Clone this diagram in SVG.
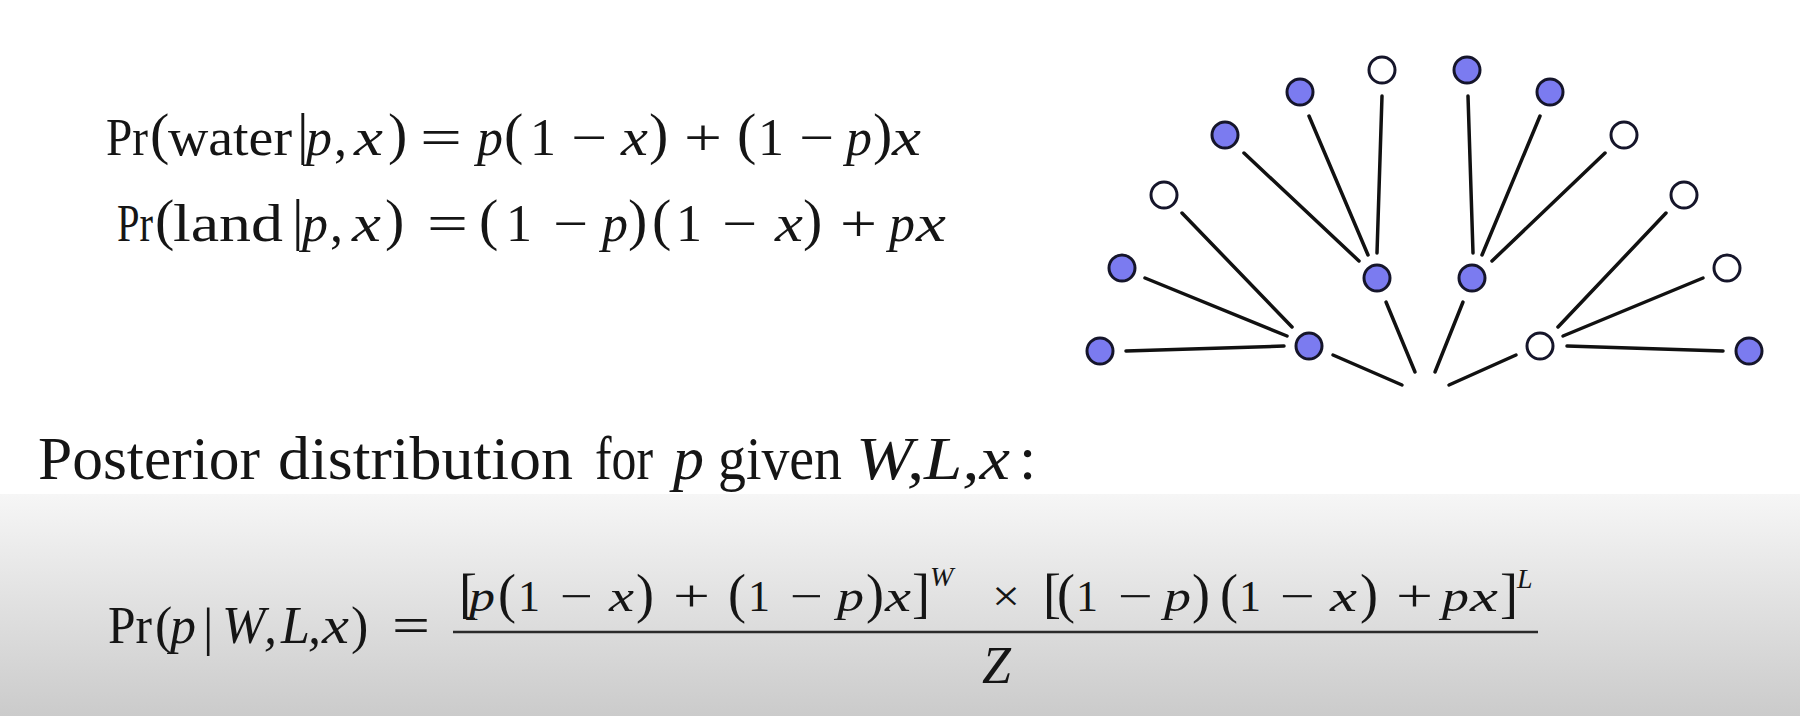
<svg xmlns="http://www.w3.org/2000/svg" width="1800" height="716" viewBox="0 0 1800 716">
<defs>
<linearGradient id="bg" x1="0" y1="0" x2="0" y2="1">
<stop offset="0" stop-color="#f6f6f6"/>
<stop offset="1" stop-color="#cbcbcb"/>
</linearGradient>
<style>
text{font-family:"Liberation Serif","Times New Roman",serif;fill:#151515}
.i{font-style:italic}
.f1{font-size:52px}
.p1{font-size:58px}
.h{font-size:62px}
.n{font-size:44px}
.np{font-size:54px}
.sup{font-size:28px;font-style:italic}
.edge{stroke:#111;stroke-width:3.5;stroke-linecap:round;fill:none}
.blue{fill:#7b7bf0;stroke:#15152a;stroke-width:3}
.white{fill:#fff;stroke:#15152a;stroke-width:3}
</style>
</defs>
<rect x="0" y="0" width="1800" height="716" fill="#fff"/>
<rect x="0" y="494" width="1800" height="222" fill="url(#bg)"/>

<g id="formula-water" class="f1">
<text x="106" y="155" textLength="42" lengthAdjust="spacingAndGlyphs">Pr</text>
<text x="150" y="153" class="p1">(</text>
<text x="168" y="155" textLength="124" lengthAdjust="spacingAndGlyphs">water</text>
<text x="297" y="153" class="p1">|</text>
<text x="306" y="155" class="i">p</text>
<text x="334" y="155">,</text>
<text x="354" y="155" class="i" textLength="29" lengthAdjust="spacingAndGlyphs">x</text>
<text x="388" y="153" class="p1">)</text>
<text x="420" y="155" textLength="42" lengthAdjust="spacingAndGlyphs">=</text>
<text x="477" y="155" class="i">p</text>
<text x="504" y="153" class="p1">(</text>
<text x="530" y="155">1</text>
<text x="571" y="155" textLength="36" lengthAdjust="spacingAndGlyphs">−</text>
<text x="621" y="155" class="i" textLength="27" lengthAdjust="spacingAndGlyphs">x</text>
<text x="649" y="153" class="p1">)</text>
<text x="684" y="155" textLength="38" lengthAdjust="spacingAndGlyphs">+</text>
<text x="737" y="153" class="p1">(</text>
<text x="758" y="155">1</text>
<text x="799" y="155" textLength="35" lengthAdjust="spacingAndGlyphs">−</text>
<text x="846" y="155" class="i">p</text>
<text x="873" y="153" class="p1">)</text>
<text x="892" y="155" class="i" textLength="29" lengthAdjust="spacingAndGlyphs">x</text>
</g>

<g id="formula-land" class="f1">
<text x="117" y="241"><tspan textLength="36" lengthAdjust="spacingAndGlyphs">Pr</tspan><tspan x="155" y="239" class="p1">(</tspan></text>
<text x="173" y="241" textLength="110" lengthAdjust="spacingAndGlyphs">land</text>
<text x="292" y="239" class="p1">|</text>
<text x="302" y="241" class="i">p</text>
<text x="330" y="241">,</text>
<text x="352" y="241" class="i" textLength="29" lengthAdjust="spacingAndGlyphs">x</text>
<text x="385" y="239" class="p1">)</text>
<text x="427" y="241" textLength="41" lengthAdjust="spacingAndGlyphs">=</text>
<text x="479" y="239" class="p1">(</text>
<text x="506" y="241">1</text>
<text x="553" y="241" textLength="35" lengthAdjust="spacingAndGlyphs">−</text>
<text x="602" y="241" class="i">p</text>
<text x="628" y="239" class="p1">)</text>
<text x="652" y="239" class="p1">(</text>
<text x="676" y="241">1</text>
<text x="722" y="241" textLength="35" lengthAdjust="spacingAndGlyphs">−</text>
<text x="775" y="241" class="i" textLength="28" lengthAdjust="spacingAndGlyphs">x</text>
<text x="803" y="239" class="p1">)</text>
<text x="840" y="241" textLength="37" lengthAdjust="spacingAndGlyphs">+</text>
<text x="889" y="241" class="i">p</text>
<text x="916" y="241" class="i" textLength="30" lengthAdjust="spacingAndGlyphs">x</text>
</g>

<g id="heading" class="h">
<text x="38" y="479" textLength="222" lengthAdjust="spacingAndGlyphs">Posterior</text>
<text x="278" y="479" textLength="295" lengthAdjust="spacingAndGlyphs">distribution</text>
<text x="595" y="479" textLength="58" lengthAdjust="spacingAndGlyphs">for</text>
<text x="673" y="479" class="i">p</text>
<text x="718" y="479" textLength="124" lengthAdjust="spacingAndGlyphs">given</text>
<text x="856" y="479" class="i" textLength="154" lengthAdjust="spacingAndGlyphs">W,L,x</text>
<text x="1019" y="479">:</text>
</g>

<g id="formula-posterior">
<g class="f1">
<text x="108" y="643" textLength="44" lengthAdjust="spacingAndGlyphs">Pr</text>
<text x="155" y="643">(</text>
<text x="170" y="643" class="i">p</text>
<text x="203" y="645">|</text>
<text x="222" y="643" class="i">W</text>
<text x="264" y="643" class="i">,</text>
<text x="281" y="643" class="i">L</text>
<text x="308" y="643" class="i">,</text>
<text x="322" y="643" class="i" textLength="27" lengthAdjust="spacingAndGlyphs">x</text>
<text x="351" y="643">)</text>
<text x="392" y="643" textLength="38" lengthAdjust="spacingAndGlyphs">=</text>
</g>
<line x1="453" y1="632" x2="1538" y2="632" stroke="#2a2a2a" stroke-width="2.5"/>
<g class="n">
<text x="459" y="612"><tspan class="np">[</tspan><tspan x="469" y="611" class="i" textLength="26" lengthAdjust="spacingAndGlyphs">p</tspan></text>
<text x="498" y="612" class="np">(</text>
<text x="518" y="611">1</text>
<text x="560" y="611" textLength="33" lengthAdjust="spacingAndGlyphs">−</text>
<text x="609" y="611" class="i" textLength="25" lengthAdjust="spacingAndGlyphs">x</text>
<text x="636" y="612" class="np">)</text>
<text x="673" y="611" textLength="37" lengthAdjust="spacingAndGlyphs">+</text>
<text x="728" y="612" class="np">(</text>
<text x="748" y="611">1</text>
<text x="790" y="611" textLength="33" lengthAdjust="spacingAndGlyphs">−</text>
<text x="837" y="611" class="i" textLength="27" lengthAdjust="spacingAndGlyphs">p</text>
<text x="866" y="612" class="np">)</text>
<text x="885" y="611" class="i" textLength="26" lengthAdjust="spacingAndGlyphs">x</text>
<text x="912" y="612" class="np">]</text>
<text x="930" y="586" class="sup">W</text>
<text x="992" y="611" textLength="28" lengthAdjust="spacingAndGlyphs">×</text>
<text x="1043" y="612" class="np">[<tspan x="1057">(</tspan></text>
<text x="1076" y="611">1</text>
<text x="1118" y="611" textLength="35" lengthAdjust="spacingAndGlyphs">−</text>
<text x="1164" y="611" class="i" textLength="27" lengthAdjust="spacingAndGlyphs">p</text>
<text x="1192" y="612" class="np">)</text>
<text x="1220" y="612" class="np">(</text>
<text x="1239" y="611">1</text>
<text x="1280" y="611" textLength="35" lengthAdjust="spacingAndGlyphs">−</text>
<text x="1330" y="611" class="i" textLength="27" lengthAdjust="spacingAndGlyphs">x</text>
<text x="1360" y="612" class="np">)</text>
<text x="1396" y="611" textLength="37" lengthAdjust="spacingAndGlyphs">+</text>
<text x="1442" y="611" class="i" textLength="27" lengthAdjust="spacingAndGlyphs">p</text>
<text x="1470" y="611" class="i" textLength="28" lengthAdjust="spacingAndGlyphs">x</text>
<text x="1500" y="612" class="np">]</text>
<text x="1517" y="588" class="sup">L</text>
</g>
<text x="982" y="683" class="f1 i">Z</text>
</g>

<g id="connectors">
<line class="edge" x1="1333" y1="355" x2="1402" y2="385"/>
<line class="edge" x1="1386" y1="302" x2="1415" y2="372"/>
<line class="edge" x1="1463" y1="302" x2="1435" y2="372"/>
<line class="edge" x1="1516" y1="355" x2="1449" y2="385"/>
<line class="edge" x1="1126" y1="351" x2="1284" y2="346"/>
<line class="edge" x1="1145" y1="278" x2="1287" y2="336"/>
<line class="edge" x1="1182" y1="213" x2="1292" y2="327"/>
<line class="edge" x1="1244" y1="153" x2="1359" y2="261"/>
<line class="edge" x1="1309" y1="116" x2="1368" y2="255"/>
<line class="edge" x1="1382" y1="96" x2="1377" y2="253"/>
<line class="edge" x1="1468" y1="96" x2="1473" y2="253"/>
<line class="edge" x1="1540" y1="116" x2="1482" y2="255"/>
<line class="edge" x1="1605" y1="153" x2="1492" y2="261"/>
<line class="edge" x1="1666" y1="213" x2="1558" y2="327"/>
<line class="edge" x1="1703" y1="278" x2="1563" y2="336"/>
<line class="edge" x1="1723" y1="351" x2="1567" y2="346"/>
</g>

<g id="n-mid-left"><circle class="blue" cx="1309" cy="346" r="13"/></g>
<g id="n-mid-center-left"><circle class="blue" cx="1377" cy="278" r="13"/></g>
<g id="n-mid-center-right"><circle class="blue" cx="1472" cy="278" r="13"/></g>
<g id="n-mid-right"><circle class="white" cx="1540" cy="346" r="13"/></g>
<g id="n-leaf-1"><circle class="blue" cx="1100" cy="351" r="13"/></g>
<g id="n-leaf-2"><circle class="blue" cx="1122" cy="268" r="13"/></g>
<g id="n-leaf-3"><circle class="white" cx="1164" cy="195" r="13"/></g>
<g id="n-leaf-4"><circle class="blue" cx="1225" cy="135" r="13"/></g>
<g id="n-leaf-5"><circle class="blue" cx="1300" cy="92" r="13"/></g>
<g id="n-leaf-6"><circle class="white" cx="1382" cy="70" r="13"/></g>
<g id="n-leaf-7"><circle class="blue" cx="1467" cy="70" r="13"/></g>
<g id="n-leaf-8"><circle class="blue" cx="1550" cy="92" r="13"/></g>
<g id="n-leaf-9"><circle class="white" cx="1624" cy="135" r="13"/></g>
<g id="n-leaf-10"><circle class="white" cx="1684" cy="195" r="13"/></g>
<g id="n-leaf-11"><circle class="white" cx="1727" cy="268" r="13"/></g>
<g id="n-leaf-12"><circle class="blue" cx="1749" cy="351" r="13"/></g>
</svg>
